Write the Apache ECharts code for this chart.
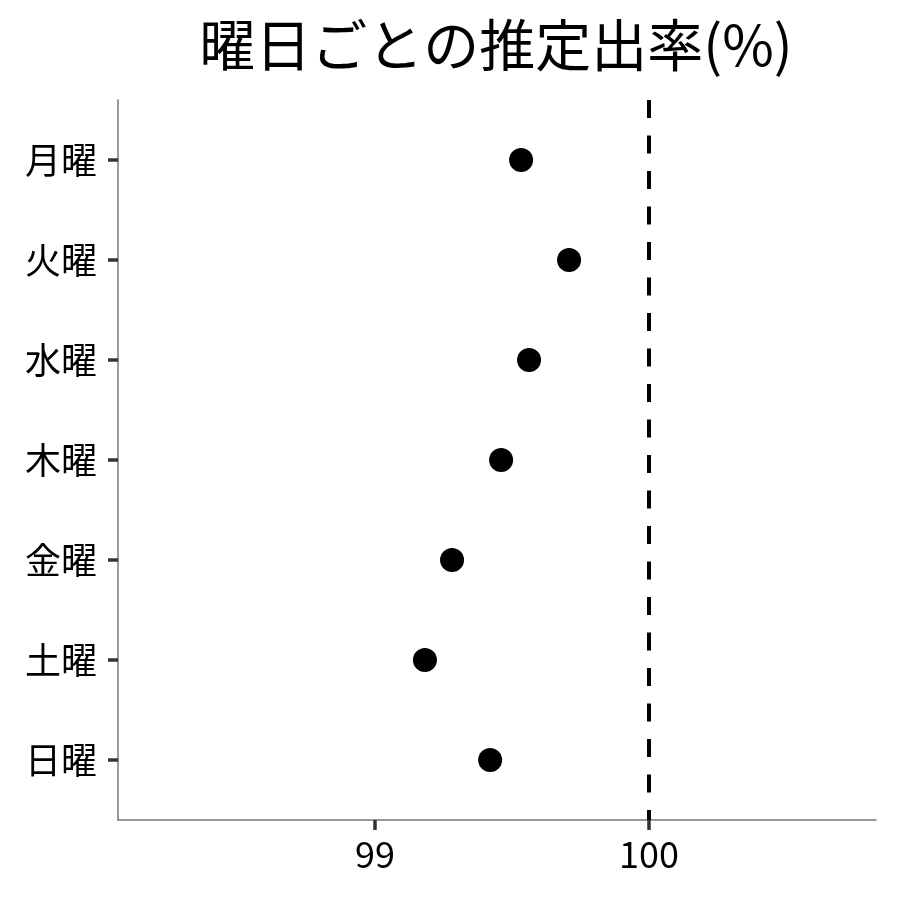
<!DOCTYPE html>
<html>
<head>
<meta charset="utf-8">
<script src="https://cdn.jsdelivr.net/npm/echarts@6/dist/echarts.min.js"></script>
<style>
html,body{margin:0;padding:0;background:#fff;}
#chart{width:900px;height:900px;}
</style>
</head>
<body>
<div id="chart"></div>
<script>
const titleText = '曜日ごとの推定出率(%)';
const categories = ['月曜', '火曜', '水曜', '木曜', '金曜', '土曜', '日曜'];
const rates = [99.533, 99.708, 99.562, 99.460, 99.281, 99.182, 99.420];
const xTicks = [99, 100];
const refValue = 100;

const FONT = '"Noto Sans CJK JP", "Noto Sans", sans-serif';
const chart = echarts.init(document.getElementById('chart'));
const points = rates.map((v, i) => [v, i]);
const catIdx = categories.map((c, i) => i);

chart.setOption({
  animation: false,
  backgroundColor: '#fff',
  graphic: [{
    type: 'text',
    x: 496, y: 45,
    style: {
      text: titleText,
      font: '56px ' + FONT,
      fill: '#000',
      textAlign: 'center',
      textVerticalAlign: 'middle'
    }
  }],
  grid: { left: 118, right: 24, top: 100, bottom: 80, containLabel: false },
  xAxis: {
    type: 'value',
    min: 98.062,
    max: 100.828,
    splitLine: { show: false },
    axisLine: { show: true, onZero: false, lineStyle: { color: '#777', width: 1.5 } },
    axisTick: { show: true, length: 10, lineStyle: { color: '#333', width: 3.5 }, customValues: xTicks },
    axisLabel: { customValues: xTicks, fontSize: 36, fontFamily: FONT, color: '#000', margin: 16 }
  },
  yAxis: {
    type: 'value',
    min: -0.6,
    max: 6.6,
    inverse: true,
    splitLine: { show: false },
    axisLine: { show: true, onZero: false, lineStyle: { color: '#777', width: 1.5 } },
    axisTick: { show: true, length: 10, lineStyle: { color: '#333', width: 3.5 }, customValues: catIdx },
    axisLabel: {
      customValues: catIdx,
      fontSize: 36, fontFamily: FONT, color: '#000', margin: 21,
      formatter: v => categories[Math.round(v)]
    }
  },
  series: [{
    type: 'scatter',
    data: points,
    symbol: 'circle',
    symbolSize: 24,
    itemStyle: { color: '#000', opacity: 1 },
    markLine: {
      silent: true,
      symbol: ['none', 'none'],
      label: { show: false },
      lineStyle: { color: '#000', width: 4, type: [18, 17.5], opacity: 1 },
      data: [{ xAxis: refValue }]
    }
  }]
});
</script>
</body>
</html>
